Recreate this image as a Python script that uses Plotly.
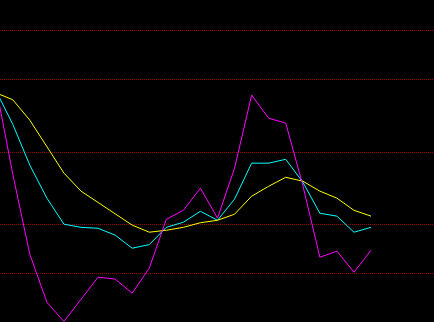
import plotly.graph_objects as go

# KDJ-style indicator values
idx = list(range(23))
k_vals = [75.4, 61.4, 44.6, 31.0, 20.3, 19.0, 18.6, 15.8, 10.4, 11.9, 19.0, 21.1, 25.6,
          21.9, 30.6, 45.4, 45.4, 47.0, 37.6, 24.8, 23.6, 17.0, 19.0]
d_vals = [74.4, 71.5, 63.1, 52.4, 41.3, 33.9, 29.3, 24.8, 19.9, 17.0, 17.8, 19.0, 20.9,
          21.9, 24.4, 31.8, 35.9, 39.6, 38.0, 33.9, 31.0, 26.0, 23.6]
j_vals = [77.5, 40.9, 7.9, -11.8, -19.8, -10.6, -1.5, -2.3, -8.1, 2.2, 22.3, 26.0, 35.1,
          22.8, 43.3, 73.4, 63.9, 61.9, 36.3, 6.7, 9.2, 0.5, 9.6]
grid_levels = [0, 20, 50, 80, 100]

fig = go.Figure()
fig.add_trace(go.Scatter(x=idx, y=k_vals, mode="lines", line=dict(color="#00FFFF", width=1)))
fig.add_trace(go.Scatter(x=idx, y=d_vals, mode="lines", line=dict(color="#FFFF00", width=1)))
fig.add_trace(go.Scatter(x=idx, y=j_vals, mode="lines", line=dict(color="#FF00FF", width=1)))

fig.update_layout(
    width=434, height=322,
    margin=dict(l=0, r=0, t=0, b=0),
    paper_bgcolor="#000000", plot_bgcolor="#000000",
    showlegend=False,
    xaxis=dict(range=[0.252, 25.69], showgrid=False, zeroline=False,
               showticklabels=False, showline=False, ticks=""),
    yaxis=dict(range=[-19.96, 112.55], tickvals=grid_levels, showticklabels=False,
               showgrid=True, gridcolor="#990000", gridwidth=1, griddash="1px,1px",
               zeroline=False, showline=False, ticks=""),
)

fig.write_html("out.html")
